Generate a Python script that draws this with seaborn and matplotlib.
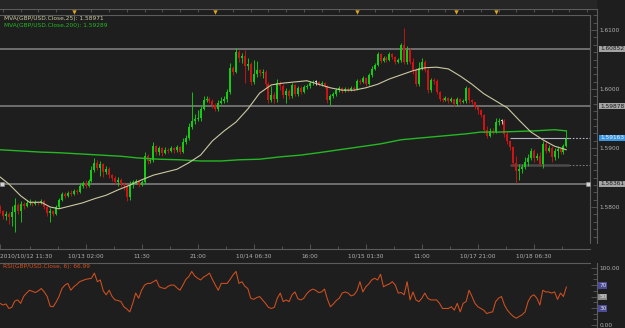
import numpy as np
import matplotlib
matplotlib.use('Agg')
import matplotlib.pyplot as plt
from matplotlib import font_manager
from matplotlib.patches import Rectangle
from matplotlib.ticker import FixedLocator, MultipleLocator
import seaborn as sns

# --- data (GBP/USD, 30 min bars) ---
FIRST_OPEN = 1.5800
CLOSES = [
    1.5793, 1.5785, 1.5788, 1.5783, 1.5792, 1.5803, 1.5793, 1.5805, 1.5802, 1.5807,
    1.5808, 1.5805, 1.5808, 1.5807, 1.5810, 1.5800, 1.5790, 1.5793, 1.5788, 1.5800,
    1.5812, 1.5822, 1.5819, 1.5824, 1.5822, 1.5827, 1.5825, 1.5836, 1.5841, 1.5836,
    1.5844, 1.5863, 1.5875, 1.5866, 1.5873, 1.5859, 1.5864, 1.5854, 1.5849, 1.5842,
    1.5846, 1.5839, 1.5836, 1.5817, 1.5837, 1.5842, 1.5844, 1.5837, 1.5842, 1.5886,
    1.5878, 1.5880, 1.5903, 1.5893, 1.5900, 1.5892, 1.5897, 1.5895, 1.5900, 1.5897,
    1.5902, 1.5893, 1.5910, 1.5917, 1.5936, 1.5946, 1.5949, 1.5951, 1.5966, 1.5981,
    1.5983, 1.5980, 1.5973, 1.5966, 1.5976, 1.5980, 1.5983, 1.5995, 1.6036, 1.6029,
    1.6063, 1.6053, 1.6056, 1.6039, 1.6042, 1.6012, 1.6025, 1.6032, 1.6027, 1.6029,
    1.6008, 1.5981, 1.5990, 1.5983, 1.6010, 1.6005, 1.5990, 1.5997, 1.5988, 1.6007,
    1.5992, 1.6002, 1.5995, 1.6003, 1.6005, 1.6010, 1.6012, 1.6012, 1.6008, 1.6010,
    1.6005, 1.5981, 1.5988, 1.5992, 1.5998, 1.6002, 1.5997, 1.6000, 1.5998, 1.6002,
    1.6000, 1.6014, 1.6012, 1.6019, 1.6008, 1.6024, 1.6034, 1.6041, 1.6059, 1.6047,
    1.6053, 1.6049, 1.6059, 1.6054, 1.6046, 1.6049, 1.6075, 1.6046, 1.6066, 1.6046,
    1.6032, 1.6008, 1.6036, 1.6046, 1.6032, 1.5998, 1.6015, 1.6014, 1.5995, 1.5983,
    1.5981, 1.5985, 1.5980, 1.5983, 1.5975, 1.5983, 1.5978, 1.5980, 1.6002, 1.5981,
    1.5978, 1.5969, 1.5964, 1.5956, 1.5931, 1.5920, 1.5929, 1.5927, 1.5944, 1.5946,
    1.5946, 1.5924, 1.5912, 1.5902, 1.5875, 1.5861, 1.5864, 1.5868, 1.5876, 1.5883,
    1.5895, 1.5883, 1.5886, 1.5873, 1.5907, 1.5895, 1.5900, 1.5885, 1.5895, 1.5898,
    1.5893, 1.5903, 1.5916]
HIGHS = [
    1.5803, 1.5795, 1.5793, 1.5792, 1.5802, 1.5815, 1.5807, 1.5810, 1.5808, 1.5812,
    1.5814, 1.5810, 1.5812, 1.5810, 1.5814, 1.5812, 1.5802, 1.5798, 1.5795, 1.5803,
    1.5815, 1.5825, 1.5825, 1.5827, 1.5829, 1.5831, 1.5831, 1.5841, 1.5844, 1.5846,
    1.5847, 1.5869, 1.5883, 1.5880, 1.5878, 1.5875, 1.5869, 1.5868, 1.5856, 1.5853,
    1.5851, 1.5849, 1.5842, 1.5839, 1.5844, 1.5846, 1.5847, 1.5846, 1.5846, 1.5893,
    1.5890, 1.5883, 1.5910, 1.5905, 1.5903, 1.5902, 1.5902, 1.5900, 1.5903, 1.5902,
    1.5905, 1.5903, 1.5917, 1.5922, 1.5942, 1.5995, 1.5958, 1.5964, 1.5971, 1.5988,
    1.5988, 1.5986, 1.5983, 1.5976, 1.5981, 1.5986, 1.5988, 1.6000, 1.6044, 1.6039,
    1.6069, 1.6066, 1.6061, 1.6066, 1.6053, 1.6046, 1.6049, 1.6047, 1.6034, 1.6034,
    1.6032, 1.6012, 1.6005, 1.5995, 1.6017, 1.6014, 1.6008, 1.6002, 1.6000, 1.6010,
    1.6008, 1.6005, 1.6005, 1.6007, 1.6008, 1.6014, 1.6015, 1.6015, 1.6014, 1.6014,
    1.6012, 1.6007, 1.5992, 1.5995, 1.6002, 1.6005, 1.6003, 1.6003, 1.6003, 1.6005,
    1.6005, 1.6017, 1.6017, 1.6022, 1.6020, 1.6027, 1.6039, 1.6044, 1.6063, 1.6061,
    1.6056, 1.6056, 1.6063, 1.6061, 1.6056, 1.6053, 1.6078, 1.6103, 1.6073, 1.6069,
    1.6053, 1.6036, 1.6046, 1.6053, 1.6049, 1.6036, 1.6019, 1.6019, 1.6017, 1.5997,
    1.5986, 1.5988, 1.5986, 1.5986, 1.5983, 1.5986, 1.5985, 1.5983, 1.6005, 1.6003,
    1.5983, 1.5978, 1.5971, 1.5966, 1.5958, 1.5937, 1.5934, 1.5934, 1.5951, 1.5951,
    1.5949, 1.5949, 1.5929, 1.5914, 1.5903, 1.5886, 1.5873, 1.5873, 1.5885, 1.5890,
    1.5900, 1.5898, 1.5892, 1.5893, 1.5912, 1.5912, 1.5905, 1.5903, 1.5900, 1.5903,
    1.5900, 1.5907, 1.5931]
LOWS = [
    1.5790, 1.5780, 1.5778, 1.5771, 1.5768, 1.5758, 1.5788, 1.5775, 1.5797, 1.5800,
    1.5803, 1.5802, 1.5803, 1.5803, 1.5805, 1.5797, 1.5785, 1.5775, 1.5785, 1.5786,
    1.5798, 1.5810, 1.5815, 1.5817, 1.5819, 1.5820, 1.5822, 1.5824, 1.5832, 1.5832,
    1.5834, 1.5842, 1.5859, 1.5863, 1.5853, 1.5851, 1.5856, 1.5849, 1.5844, 1.5839,
    1.5836, 1.5834, 1.5829, 1.5810, 1.5812, 1.5832, 1.5839, 1.5834, 1.5836, 1.5839,
    1.5873, 1.5875, 1.5876, 1.5888, 1.5888, 1.5886, 1.5890, 1.5892, 1.5893, 1.5892,
    1.5893, 1.5890, 1.5892, 1.5907, 1.5914, 1.5932, 1.5941, 1.5946, 1.5946, 1.5964,
    1.5978, 1.5976, 1.5968, 1.5963, 1.5963, 1.5975, 1.5976, 1.5978, 1.5992, 1.6024,
    1.6027, 1.6046, 1.6044, 1.6010, 1.6032, 1.6007, 1.6008, 1.6020, 1.6022, 1.6019,
    1.6003, 1.5976, 1.5978, 1.5976, 1.5978, 1.5998, 1.5985, 1.5976, 1.5983, 1.5985,
    1.5988, 1.5988, 1.5992, 1.5993, 1.6000, 1.6002, 1.6007, 1.6007, 1.6005, 1.6005,
    1.6002, 1.5976, 1.5973, 1.5985, 1.5988, 1.5995, 1.5993, 1.5995, 1.5995, 1.5997,
    1.5997, 1.5998, 1.6008, 1.6010, 1.6005, 1.6007, 1.6020, 1.6032, 1.6039, 1.6044,
    1.6046, 1.6046, 1.6047, 1.6051, 1.6042, 1.6044, 1.6046, 1.6042, 1.6042, 1.6042,
    1.6025, 1.6005, 1.6005, 1.6032, 1.6029, 1.5993, 1.5995, 1.6008, 1.5992, 1.5980,
    1.5978, 1.5980, 1.5976, 1.5978, 1.5971, 1.5971, 1.5975, 1.5976, 1.5976, 1.5976,
    1.5975, 1.5966, 1.5958, 1.5953, 1.5925, 1.5917, 1.5919, 1.5924, 1.5925, 1.5939,
    1.5941, 1.5919, 1.5907, 1.5897, 1.5869, 1.5841, 1.5846, 1.5858, 1.5864, 1.5869,
    1.5880, 1.5876, 1.5880, 1.5869, 1.5866, 1.5892, 1.5893, 1.5876, 1.5880, 1.5883,
    1.5890, 1.5890, 1.5902]

MVA25_BARS = [0, 3, 7, 10, 14, 17, 20, 24, 28, 32, 36, 40, 44, 48, 52, 56, 60, 64, 68, 72,
              76, 80, 84, 88, 92, 96, 100, 104, 108, 112, 116, 120, 124, 128, 132, 136,
              140, 144, 148, 152, 156, 160, 164, 168, 172, 176, 180, 184, 188, 192]
MVA25 = [1.5851, 1.5839, 1.5819, 1.5808, 1.5808, 1.5800, 1.5797, 1.5802, 1.5807, 1.5814,
         1.5820, 1.5829, 1.5837, 1.5846, 1.5854, 1.5859, 1.5864, 1.5875, 1.5888, 1.5912,
         1.5929, 1.5944, 1.5966, 1.5993, 1.6007, 1.6010, 1.6012, 1.6014, 1.6008, 1.6002,
         1.5998, 1.5998, 1.6002, 1.6008, 1.6017, 1.6024, 1.6031, 1.6036, 1.6037, 1.6034,
         1.6022, 1.6008, 1.5992, 1.5980, 1.5968, 1.5947, 1.5927, 1.5914, 1.5903, 1.5897]
MVA200_BARS = [0, 7, 14, 20, 27, 34, 41, 47, 54, 61, 68, 75, 81, 88, 95, 102, 108, 115,
               122, 129, 136, 147, 158, 163, 169, 181, 188, 192]
MVA200 = [1.5897, 1.5895, 1.5893, 1.5892, 1.5890, 1.5888, 1.5886, 1.5883, 1.5881, 1.5880,
          1.5878, 1.5878, 1.5880, 1.5881, 1.5885, 1.5888, 1.5892, 1.5897, 1.5902, 1.5907,
          1.5914, 1.5919, 1.5924, 1.5927, 1.5927, 1.5929, 1.5931, 1.5929]

RSI6 = [
    38, 35, 37, 29, 31, 42, 44, 38, 50, 56, 61, 59, 57, 60, 64, 58, 50, 33, 32, 40,
    50, 64, 70, 73, 61, 67, 71, 76, 78, 80, 81, 82, 91, 76, 79, 60, 53, 61, 50, 44,
    43, 41, 32, 28, 23, 38, 56, 47, 61, 70, 73, 73, 76, 79, 67, 65, 64, 68, 70, 70,
    65, 61, 70, 80, 85, 94, 86, 82, 79, 84, 87, 91, 80, 70, 61, 73, 73, 73, 80, 88,
    94, 73, 76, 68, 64, 47, 45, 48, 50, 44, 38, 31, 29, 31, 47, 56, 41, 44, 41, 53,
    58, 46, 44, 47, 55, 60, 63, 61, 57, 58, 63, 45, 32, 37, 43, 47, 56, 58, 56, 51,
    53, 60, 76, 58, 67, 72, 79, 82, 79, 89, 67, 70, 72, 76, 70, 56, 57, 53, 76, 44,
    58, 44, 41, 47, 56, 47, 44, 44, 44, 38, 29, 29, 29, 32, 26, 38, 23, 38, 41, 61,
    50, 38, 32, 29, 26, 20, 22, 23, 41, 47, 50, 35, 26, 20, 15, 12, 15, 18, 23, 41,
    50, 53, 47, 35, 61, 58, 58, 56, 58, 45, 56, 50, 67]

LEVELS = [1.6068, 1.5971, 1.5839]
LEVEL_LABELS = ['1.60852', '1.59878', '1.58361']
LAST_PRICE = 1.5917
LAST_LABEL = '1.59163'
SUPPORT = 1.5871
PRICE_TICKS = [1.58, 1.59, 1.60, 1.61]
RSI_TICKS = [0, 30, 50, 70, 100]
RSI_LABELS = ['0.00', '30', '50', '70', '100.00']

TIME_TICKS = [0, 29, 48, 67, 86, 105, 124, 143, 162, 181]
TIME_LABELS = ['2010/10/12 11:30', '10/13 02:00', '11:30', '21:00', '10/14 06:30',
               '16:00', '10/15 01:30', '11:00', '10/17 21:00', '10/18 06:30']
DAY_BARS = [25, 73, 121, 154.5, 168]
DAY_LABELS = ['10/13', '10/14', '10/15', '10/17', '10/18']

MVA25_TEXT = 'MVA(GBP/USD.Close,25): 1.58971'
MVA200_TEXT = 'MVA(GBP/USD.Close,200): 1.59289'
RSI_TEXT = 'RSI(GBP/USD.Close, 6): 66.99'

# --- styling ---
BG = '#1e1e1e'
TEXT = '#b0b0b0'
SPINE = '#5c5c5c'
GREEN = '#14cc14'
RED = '#cc1414'
DOJI = '#d8d8d8'
MVA25_COLOR = '#cbc9a2'
MVA200_COLOR = '#24b824'
RSI_COLOR = '#d2501e'
LEVEL_COLOR = '#858585'
ORANGE = '#dda51c'

sns.set_theme(style='dark', rc={
    'axes.facecolor': BG, 'figure.facecolor': BG, 'axes.edgecolor': SPINE,
    'xtick.color': SPINE, 'ytick.color': SPINE, 'text.color': TEXT,
    'xtick.labelcolor': TEXT, 'ytick.labelcolor': TEXT, 'axes.grid': False,
    'axes.linewidth': 0.8})
names = {f.name for f in font_manager.fontManager.ttflist}
FONT = 'Liberation Sans Narrow' if 'Liberation Sans Narrow' in names else 'DejaVu Sans'
FS = 5.1 if FONT == 'Liberation Sans Narrow' else 4.2
plt.rcParams['font.family'] = [FONT, 'DejaVu Sans']

W, H = 625, 328
PX_PER_BAR = 2.95
SLOTS = 590 / PX_PER_BAR


def px_rect(x0, y0, x1, y1):
    return [x0 / W, 1 - y1 / H, (x1 - x0) / W, (y1 - y0) / H]


fig = plt.figure(figsize=(W / 100, H / 100), dpi=100)
fig.patches.append(Rectangle((0, 1 - 9 / H), 597 / W, 9 / H, transform=fig.transFigure,
                             fc='#262626', ec='none', zorder=0))

# ---------------- main price panel ----------------
ax = fig.add_axes(px_rect(0, 15, 590, 243))
ax.set_xlim(0, SLOTS)
ax.set_ylim(1.61 - 213 / 5900, 1.61 + 15 / 5900)

bars = np.arange(len(CLOSES))
closes = np.array(CLOSES)
opens = np.array([FIRST_OPEN] + CLOSES[:-1])
colors = np.where(closes > opens, GREEN, np.where(closes < opens, RED, DOJI))

for lv in LEVELS:
    ax.axhline(lv, color=LEVEL_COLOR, lw=1.1, zorder=1)
ax.hlines(SUPPORT, 173, 193, color='#4a4a4a', lw=1.8, zorder=1)
ax.hlines(SUPPORT, 193, SLOTS, color='#777777', lw=0.8, ls=(0, (1.5, 1.5)), zorder=1)
ax.hlines(LAST_PRICE, 173, 193, color='#b4b4c8', lw=0.8, zorder=1)
ax.hlines(LAST_PRICE, 193, SLOTS, color='#b4b4c8', lw=0.8, ls=(0, (1.5, 1.5)), zorder=1)

ax.vlines(bars, LOWS, HIGHS, colors=colors, lw=0.65, zorder=3)
ax.bar(bars, np.maximum(np.abs(closes - opens), 0.00012), bottom=np.minimum(opens, closes),
       width=0.66, color=colors, linewidth=0, zorder=3)

sns.lineplot(x=MVA200_BARS, y=MVA200, ax=ax, color=MVA200_COLOR, lw=1.0, zorder=4)
sns.lineplot(x=MVA25_BARS, y=MVA25, ax=ax, color=MVA25_COLOR, lw=0.8, zorder=4)

ax.plot([0.6, SLOTS - 0.6], [LEVELS[2]] * 2, 's', ms=2.6, mfc='#d4d4d4', mec='#909090',
        mew=0.4, ls='none', clip_on=False, zorder=6)

ax.annotate(MVA25_TEXT, xy=(0, 1), xycoords='axes fraction', xytext=(2.8, -2.3),
            textcoords='offset points', ha='left', va='center', fontsize=FS, color=MVA25_COLOR)
ax.annotate(MVA200_TEXT, xy=(0, 1), xycoords='axes fraction', xytext=(2.8, -7.4),
            textcoords='offset points', ha='left', va='center', fontsize=FS, color=MVA200_COLOR)

ax.spines['left'].set_visible(False)
ax.spines['right'].set_position(('outward', 5))
ax.spines['bottom'].set_position(('outward', 4.3))
ax.axvline(SLOTS, color=SPINE, lw=0.8, clip_on=False)

ax.yaxis.tick_right()
ax.set_yticks(PRICE_TICKS, [f'{p:.4f}' for p in PRICE_TICKS])
ax.yaxis.set_minor_locator(MultipleLocator(0.00125))
ax.tick_params(axis='y', which='both', direction='in', right=True, left=False,
               labelright=True, labelleft=False, labelsize=FS, pad=1.6)
ax.tick_params(axis='y', which='major', length=4.3, width=0.6)
ax.tick_params(axis='y', which='minor', length=2.8, width=0.6)

ax.set_xticks(TIME_TICKS, TIME_LABELS)
ax.get_xticklabels()[0].set_ha('left')
ax.xaxis.set_minor_locator(FixedLocator(np.arange(10, 200, 9.5)))
ax.tick_params(axis='x', which='both', direction='in', bottom=True, labelsize=FS, pad=3.6)
ax.tick_params(axis='x', which='major', length=3.6, width=0.6)
ax.tick_params(axis='x', which='minor', length=2.2, width=0.6)
ax.set_xlabel('')
ax.set_ylabel('')

for lv, txt in zip(LEVELS, LEVEL_LABELS):
    ax.annotate(txt, xy=(1, lv), xycoords=('axes fraction', 'data'), xytext=(7.2, 0),
                textcoords='offset points', ha='left', va='center', fontsize=FS,
                color='#1c1c1c', annotation_clip=False,
                bbox=dict(boxstyle='square,pad=0.12', fc='#a4a4a4', ec='none'))
ax.annotate(LAST_LABEL, xy=(1, LAST_PRICE), xycoords=('axes fraction', 'data'),
            xytext=(7.2, 0), textcoords='offset points', ha='left', va='center',
            fontsize=FS, color='#e8f2ff', annotation_clip=False,
            bbox=dict(boxstyle='square,pad=0.12', fc='#3c96e0', ec='none'))

# ---------------- top date strip ----------------
ax_top = fig.add_axes(px_rect(0, 9, 597, 15))
ax_top.set_facecolor(BG)
ax_top.set_xlim(0, 597 / PX_PER_BAR)
ax_top.set_ylim(0, 1)
for sp in ['left', 'bottom']:
    ax_top.spines[sp].set_visible(False)
ax_top.xaxis.tick_top()
ax_top.set_xticks(DAY_BARS, DAY_LABELS)
ax_top.xaxis.set_minor_locator(FixedLocator(np.arange(1, 200, 6)))
ax_top.tick_params(axis='x', which='major', top=True, length=0, pad=1.4, labelsize=FS)
ax_top.tick_params(axis='x', which='minor', top=True, direction='in', length=2.0, width=0.6)
ax_top.set_yticks([])
ax_top.scatter(DAY_BARS, [0.55] * len(DAY_BARS), marker='v', s=10, color=ORANGE,
               linewidths=0, zorder=5)

# ---------------- RSI panel ----------------
ax_rsi = fig.add_axes(px_rect(0, 263, 590, 328))
ax_rsi.set_xlim(0, SLOTS)
ax_rsi.set_ylim(-3 / 0.57, 62 / 0.57)
sns.lineplot(x=bars, y=RSI6, ax=ax_rsi, color=RSI_COLOR, lw=0.75)
for sp in ['left', 'bottom']:
    ax_rsi.spines[sp].set_visible(False)
ax_rsi.spines['right'].set_position(('outward', 5))
ax_rsi.set_xticks([])
ax_rsi.yaxis.tick_right()
ax_rsi.set_yticks(RSI_TICKS, RSI_LABELS)
ax_rsi.yaxis.set_minor_locator(MultipleLocator(10))
ax_rsi.tick_params(axis='y', which='both', direction='in', right=True, left=False,
                   labelright=True, labelleft=False, labelsize=FS, pad=1.6)
ax_rsi.tick_params(axis='y', which='major', length=4.3, width=0.6)
ax_rsi.tick_params(axis='y', which='minor', length=2.8, width=0.6)
box_colors = {'30': '#4a4a96', '70': '#4a4a96', '50': '#8a8a8a'}
for lab in ax_rsi.get_yticklabels():
    fc = box_colors.get(lab.get_text())
    if fc:
        lab.set_bbox(dict(boxstyle='square,pad=0.12', fc=fc, ec='none'))
        lab.set_color('#dcdcdc')
ax_rsi.set_xlabel('')
ax_rsi.set_ylabel('')
ax_rsi.annotate(RSI_TEXT, xy=(0, 1), xycoords='axes fraction', xytext=(2.0, -2.2),
                textcoords='offset points', ha='left', va='center', fontsize=FS,
                color=RSI_COLOR)

fig.savefig('out.png', dpi=100, facecolor=BG)
